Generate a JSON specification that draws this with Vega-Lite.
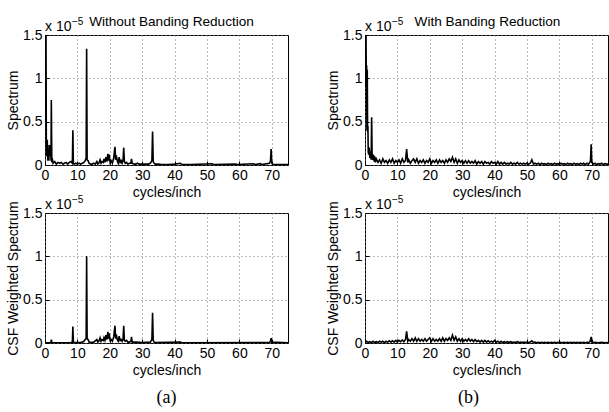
{
"$schema": "https://vega.github.io/schema/vega-lite/v6.json",
"padding": {"left": 6, "top": 14, "right": 0, "bottom": 0},
"background": "#ffffff",
"config": {
  "view": {"stroke": "#000", "strokeWidth": 1},
  "axis": {"labelFont": "Liberation Sans", "labelFontSize": 14, "labelColor": "#000", "labelOverlap": false, "labelFlush": false, "titleFont": "Liberation Sans", "titleFontSize": 14, "titleFontWeight": "normal", "titleColor": "#000", "domain": false, "ticks": true, "tickColor": "#000", "tickSize": -4, "labelPadding": 7, "grid": true, "gridColor": "#777", "gridDash": [1, 3], "gridWidth": 1},
  "axisX": {"titlePadding": 3, "tickCount": 10},
  "axisY": {"titlePadding": 2, "tickCount": 5},
  "title": {"font": "Liberation Sans", "fontSize": 13.6, "fontWeight": "normal", "color": "#000", "frame": "group", "baseline": "alphabetic", "offset": -12}
},
"datasets": {
  "tl": [{"f":0,"v":0.5},{"f":0.1,"v":1.6},{"f":0.2,"v":0.8},{"f":0.3,"v":1.6},{"f":0.4,"v":0.3},{"f":0.5,"v":0.1},{"f":0.7,"v":0.29},{"f":0.85,"v":0.05},{"f":1.0,"v":0.15},{"f":1.2,"v":0.05},{"f":1.3,"v":0.23},{"f":1.45,"v":0.1},{"f":1.55,"v":0.23},{"f":1.65,"v":0.12},{"f":1.75,"v":0.23},{"f":1.85,"v":0.05},{"f":1.95,"v":0.75},{"f":2.1,"v":0.05},{"f":2.3,"v":0.06},{"f":2.5,"v":0.02},{"f":3,"v":0.04},{"f":3.5,"v":0.01},{"f":4,"v":0.03},{"f":4.5,"v":0.02},{"f":5,"v":0.03},{"f":5.5,"v":0.01},{"f":6,"v":0.02},{"f":6.5,"v":0.03},{"f":7,"v":0.01},{"f":7.5,"v":0.03},{"f":8,"v":0.04},{"f":8.45,"v":0.02},{"f":8.6,"v":0.4},{"f":8.75,"v":0.02},{"f":9,"v":0.01},{"f":9.5,"v":0.02},{"f":10,"v":0.01},{"f":10.5,"v":0.02},{"f":11,"v":0.01},{"f":11.5,"v":0.02},{"f":12,"v":0.03},{"f":12.4,"v":0.05},{"f":12.7,"v":0.08},{"f":12.85,"v":1.34},{"f":13,"v":0.06},{"f":13.3,"v":0.05},{"f":13.6,"v":0.02},{"f":14,"v":0.01},{"f":14.5,"v":0.01},{"f":15,"v":0.02},{"f":15.5,"v":0.01},{"f":16,"v":0.04},{"f":16.3,"v":0.01},{"f":16.6,"v":0.02},{"f":17,"v":0.06},{"f":17.3,"v":0.02},{"f":17.6,"v":0.04},{"f":18,"v":0.03},{"f":18.2,"v":0.07},{"f":18.5,"v":0.03},{"f":18.8,"v":0.09},{"f":19.1,"v":0.04},{"f":19.4,"v":0.13},{"f":19.6,"v":0.05},{"f":19.8,"v":0.12},{"f":20.1,"v":0.03},{"f":20.4,"v":0.05},{"f":20.8,"v":0.02},{"f":21.2,"v":0.08},{"f":21.6,"v":0.21},{"f":21.8,"v":0.06},{"f":22,"v":0.11},{"f":22.3,"v":0.05},{"f":22.6,"v":0.02},{"f":22.9,"v":0.09},{"f":23.2,"v":0.03},{"f":23.5,"v":0.05},{"f":23.8,"v":0.02},{"f":24.1,"v":0.06},{"f":24.3,"v":0.2},{"f":24.5,"v":0.04},{"f":24.8,"v":0.02},{"f":25.2,"v":0.03},{"f":25.6,"v":0.01},{"f":26,"v":0.02},{"f":26.5,"v":0.02},{"f":26.7,"v":0.07},{"f":26.9,"v":0.02},{"f":27.5,"v":0.01},{"f":28,"v":0.01},{"f":28.5,"v":0.02},{"f":29,"v":0.01},{"f":30,"v":0.01},{"f":31,"v":0.01},{"f":32,"v":0.01},{"f":32.5,"v":0.02},{"f":33,"v":0.05},{"f":33.2,"v":0.385},{"f":33.4,"v":0.04},{"f":33.7,"v":0.02},{"f":34,"v":0.01},{"f":35,"v":0.01},{"f":36,"v":0.005},{"f":38,"v":0.005},{"f":40,"v":0.01},{"f":41.8,"v":0.02},{"f":42.2,"v":0.005},{"f":45,"v":0.005},{"f":51.6,"v":0.015},{"f":52,"v":0.005},{"f":58.8,"v":0.012},{"f":59.2,"v":0.005},{"f":64.4,"v":0.015},{"f":64.8,"v":0.005},{"f":66.5,"v":0.015},{"f":66.9,"v":0.005},{"f":69.3,"v":0.02},{"f":69.6,"v":0.05},{"f":69.8,"v":0.185},{"f":70,"v":0.02},{"f":70.5,"v":0.005},{"f":75,"v":0.005}],
  "tr": [{"f":0,"v":0.9},{"f":0.1,"v":1.6},{"f":0.2,"v":1.2},{"f":0.3,"v":1.6},{"f":0.4,"v":0.9},{"f":0.5,"v":1.15},{"f":0.6,"v":0.4},{"f":0.7,"v":1.1},{"f":0.8,"v":0.38},{"f":0.9,"v":0.45},{"f":1,"v":0.15},{"f":1.15,"v":0.12},{"f":1.3,"v":0.2},{"f":1.5,"v":0.08},{"f":1.7,"v":0.15},{"f":1.9,"v":0.06},{"f":2.05,"v":0.55},{"f":2.2,"v":0.1},{"f":2.4,"v":0.06},{"f":2.6,"v":0.12},{"f":2.8,"v":0.04},{"f":3,"v":0.1},{"f":3.2,"v":0.03},{"f":3.5,"v":0.07},{"f":4,"v":0.03},{"f":4.5,"v":0.06},{"f":5,"v":0.02},{"f":5.5,"v":0.07},{"f":6,"v":0.03},{"f":6.5,"v":0.05},{"f":7,"v":0.02},{"f":7.5,"v":0.06},{"f":8,"v":0.03},{"f":8.5,"v":0.07},{"f":9,"v":0.02},{"f":9.5,"v":0.05},{"f":10,"v":0.03},{"f":10.5,"v":0.06},{"f":11,"v":0.02},{"f":11.5,"v":0.07},{"f":12,"v":0.03},{"f":12.5,"v":0.05},{"f":12.85,"v":0.185},{"f":13.2,"v":0.03},{"f":13.5,"v":0.06},{"f":14,"v":0.02},{"f":14.5,"v":0.05},{"f":15,"v":0.07},{"f":15.5,"v":0.03},{"f":16,"v":0.07},{"f":16.5,"v":0.02},{"f":17,"v":0.05},{"f":17.5,"v":0.03},{"f":18,"v":0.06},{"f":18.5,"v":0.02},{"f":19,"v":0.05},{"f":19.5,"v":0.03},{"f":20,"v":0.07},{"f":20.5,"v":0.02},{"f":21,"v":0.05},{"f":21.5,"v":0.03},{"f":22,"v":0.06},{"f":22.5,"v":0.02},{"f":23,"v":0.06},{"f":23.5,"v":0.03},{"f":24,"v":0.05},{"f":24.5,"v":0.02},{"f":25,"v":0.06},{"f":25.5,"v":0.03},{"f":26,"v":0.07},{"f":26.5,"v":0.04},{"f":27,"v":0.09},{"f":27.5,"v":0.03},{"f":28,"v":0.07},{"f":28.5,"v":0.02},{"f":29,"v":0.06},{"f":29.5,"v":0.03},{"f":30,"v":0.05},{"f":30.5,"v":0.02},{"f":31,"v":0.05},{"f":31.5,"v":0.02},{"f":32,"v":0.05},{"f":32.5,"v":0.02},{"f":33,"v":0.04},{"f":33.5,"v":0.02},{"f":34,"v":0.05},{"f":34.5,"v":0.01},{"f":35,"v":0.04},{"f":35.5,"v":0.02},{"f":36,"v":0.04},{"f":36.5,"v":0.01},{"f":37,"v":0.04},{"f":37.5,"v":0.02},{"f":38,"v":0.03},{"f":38.5,"v":0.01},{"f":39,"v":0.04},{"f":39.5,"v":0.02},{"f":40,"v":0.03},{"f":40.5,"v":0.01},{"f":41,"v":0.04},{"f":41.5,"v":0.01},{"f":42,"v":0.03},{"f":42.5,"v":0.01},{"f":43,"v":0.03},{"f":43.5,"v":0.01},{"f":44,"v":0.02},{"f":44.5,"v":0.01},{"f":45,"v":0.03},{"f":45.5,"v":0.01},{"f":46,"v":0.02},{"f":46.5,"v":0.01},{"f":47,"v":0.03},{"f":47.5,"v":0.01},{"f":48,"v":0.02},{"f":48.5,"v":0.01},{"f":49,"v":0.02},{"f":49.5,"v":0.01},{"f":50,"v":0.02},{"f":50.5,"v":0.01},{"f":51,"v":0.02},{"f":51.5,"v":0.06},{"f":52,"v":0.01},{"f":52.5,"v":0.02},{"f":53,"v":0.01},{"f":53.5,"v":0.02},{"f":54,"v":0.005},{"f":54.5,"v":0.02},{"f":55,"v":0.01},{"f":55.5,"v":0.015},{"f":56,"v":0.005},{"f":56.5,"v":0.02},{"f":57,"v":0.01},{"f":57.5,"v":0.015},{"f":58,"v":0.005},{"f":58.5,"v":0.02},{"f":59,"v":0.01},{"f":59.5,"v":0.015},{"f":60,"v":0.005},{"f":60.5,"v":0.02},{"f":61,"v":0.01},{"f":61.5,"v":0.015},{"f":62,"v":0.005},{"f":62.5,"v":0.02},{"f":63,"v":0.01},{"f":63.5,"v":0.015},{"f":64,"v":0.005},{"f":64.5,"v":0.02},{"f":65,"v":0.01},{"f":65.5,"v":0.015},{"f":66,"v":0.005},{"f":66.5,"v":0.02},{"f":67,"v":0.01},{"f":67.5,"v":0.02},{"f":68,"v":0.005},{"f":68.5,"v":0.02},{"f":69,"v":0.01},{"f":69.4,"v":0.03},{"f":69.6,"v":0.05},{"f":69.8,"v":0.24},{"f":70,"v":0.03},{"f":70.5,"v":0.01},{"f":71,"v":0.02},{"f":71.5,"v":0.005},{"f":72,"v":0.015},{"f":72.5,"v":0.01},{"f":73,"v":0.02},{"f":73.5,"v":0.005},{"f":74,"v":0.015},{"f":74.5,"v":0.01},{"f":75,"v":0.01}],
  "bl": [{"f":0,"v":0.002},{"f":1.8,"v":0.002},{"f":1.95,"v":0.04},{"f":2.1,"v":0.002},{"f":8,"v":0.005},{"f":8.45,"v":0.01},{"f":8.6,"v":0.19},{"f":8.75,"v":0.01},{"f":9,"v":0.005},{"f":11,"v":0.005},{"f":11.5,"v":0.01},{"f":12,"v":0.02},{"f":12.4,"v":0.04},{"f":12.7,"v":0.05},{"f":12.85,"v":1.0},{"f":13,"v":0.05},{"f":13.3,"v":0.04},{"f":13.6,"v":0.01},{"f":14,"v":0.005},{"f":15,"v":0.01},{"f":16,"v":0.04},{"f":16.3,"v":0.01},{"f":16.6,"v":0.02},{"f":17,"v":0.06},{"f":17.3,"v":0.02},{"f":17.6,"v":0.04},{"f":18,"v":0.03},{"f":18.2,"v":0.06},{"f":18.5,"v":0.03},{"f":18.8,"v":0.09},{"f":19.1,"v":0.04},{"f":19.4,"v":0.13},{"f":19.6,"v":0.05},{"f":19.8,"v":0.11},{"f":20.1,"v":0.03},{"f":20.4,"v":0.04},{"f":20.8,"v":0.02},{"f":21.2,"v":0.07},{"f":21.6,"v":0.2},{"f":21.8,"v":0.05},{"f":22,"v":0.1},{"f":22.3,"v":0.04},{"f":22.6,"v":0.02},{"f":22.9,"v":0.08},{"f":23.2,"v":0.03},{"f":23.5,"v":0.04},{"f":23.8,"v":0.02},{"f":24.1,"v":0.05},{"f":24.3,"v":0.2},{"f":24.5,"v":0.03},{"f":24.8,"v":0.02},{"f":25.2,"v":0.03},{"f":25.6,"v":0.01},{"f":26,"v":0.01},{"f":26.5,"v":0.02},{"f":26.7,"v":0.07},{"f":26.9,"v":0.01},{"f":28,"v":0.01},{"f":30,"v":0.005},{"f":32.5,"v":0.01},{"f":33,"v":0.04},{"f":33.2,"v":0.35},{"f":33.4,"v":0.03},{"f":33.7,"v":0.01},{"f":34,"v":0.005},{"f":41.8,"v":0.01},{"f":42.2,"v":0.002},{"f":69.3,"v":0.005},{"f":69.6,"v":0.02},{"f":69.8,"v":0.055},{"f":70,"v":0.01},{"f":75,"v":0.002}],
  "br": [{"f":0,"v":0.005},{"f":0.5,"v":0.02},{"f":1,"v":0.005},{"f":1.5,"v":0.015},{"f":2,"v":0.005},{"f":2.5,"v":0.02},{"f":3,"v":0.005},{"f":3.5,"v":0.015},{"f":4,"v":0.005},{"f":4.5,"v":0.02},{"f":5,"v":0.01},{"f":5.5,"v":0.02},{"f":6,"v":0.005},{"f":6.5,"v":0.02},{"f":7,"v":0.01},{"f":7.5,"v":0.025},{"f":8,"v":0.01},{"f":8.5,"v":0.025},{"f":9,"v":0.01},{"f":9.5,"v":0.03},{"f":10,"v":0.01},{"f":10.5,"v":0.03},{"f":11,"v":0.015},{"f":11.5,"v":0.035},{"f":12,"v":0.015},{"f":12.5,"v":0.04},{"f":12.85,"v":0.135},{"f":13.2,"v":0.02},{"f":13.5,"v":0.04},{"f":14,"v":0.02},{"f":14.5,"v":0.05},{"f":15,"v":0.02},{"f":15.5,"v":0.06},{"f":16,"v":0.02},{"f":16.5,"v":0.05},{"f":17,"v":0.02},{"f":17.5,"v":0.04},{"f":18,"v":0.02},{"f":18.5,"v":0.05},{"f":19,"v":0.02},{"f":19.5,"v":0.04},{"f":20,"v":0.06},{"f":20.5,"v":0.02},{"f":21,"v":0.05},{"f":21.5,"v":0.02},{"f":22,"v":0.04},{"f":22.5,"v":0.02},{"f":23,"v":0.05},{"f":23.5,"v":0.02},{"f":24,"v":0.06},{"f":24.5,"v":0.02},{"f":25,"v":0.05},{"f":25.5,"v":0.03},{"f":26,"v":0.06},{"f":26.5,"v":0.03},{"f":27,"v":0.09},{"f":27.5,"v":0.03},{"f":28,"v":0.07},{"f":28.5,"v":0.02},{"f":29,"v":0.05},{"f":29.5,"v":0.02},{"f":30,"v":0.05},{"f":30.5,"v":0.02},{"f":31,"v":0.04},{"f":31.5,"v":0.02},{"f":32,"v":0.05},{"f":32.5,"v":0.02},{"f":33,"v":0.04},{"f":33.5,"v":0.015},{"f":34,"v":0.04},{"f":34.5,"v":0.015},{"f":35,"v":0.03},{"f":35.5,"v":0.01},{"f":36,"v":0.03},{"f":36.5,"v":0.01},{"f":37,"v":0.03},{"f":37.5,"v":0.01},{"f":38,"v":0.025},{"f":38.5,"v":0.01},{"f":39,"v":0.02},{"f":39.5,"v":0.01},{"f":40,"v":0.03},{"f":40.5,"v":0.01},{"f":41,"v":0.02},{"f":41.5,"v":0.005},{"f":42,"v":0.02},{"f":42.5,"v":0.005},{"f":43,"v":0.015},{"f":43.5,"v":0.005},{"f":44,"v":0.015},{"f":44.5,"v":0.005},{"f":45,"v":0.015},{"f":45.5,"v":0.005},{"f":46,"v":0.01},{"f":46.5,"v":0.005},{"f":47,"v":0.015},{"f":47.5,"v":0.005},{"f":48,"v":0.01},{"f":48.5,"v":0.005},{"f":49,"v":0.01},{"f":49.5,"v":0.005},{"f":50,"v":0.01},{"f":50.5,"v":0.005},{"f":51,"v":0.01},{"f":51.5,"v":0.025},{"f":52,"v":0.005},{"f":52.5,"v":0.01},{"f":53,"v":0.003},{"f":53.5,"v":0.008},{"f":54,"v":0.003},{"f":54.5,"v":0.008},{"f":55,"v":0.003},{"f":55.5,"v":0.008},{"f":56,"v":0.003},{"f":56.5,"v":0.008},{"f":57,"v":0.003},{"f":57.5,"v":0.008},{"f":58,"v":0.003},{"f":58.5,"v":0.008},{"f":59,"v":0.003},{"f":59.5,"v":0.008},{"f":60,"v":0.003},{"f":60.5,"v":0.008},{"f":61,"v":0.003},{"f":61.5,"v":0.008},{"f":62,"v":0.003},{"f":62.5,"v":0.008},{"f":63,"v":0.003},{"f":63.5,"v":0.008},{"f":64,"v":0.003},{"f":64.5,"v":0.008},{"f":65,"v":0.003},{"f":65.5,"v":0.008},{"f":66,"v":0.003},{"f":66.5,"v":0.008},{"f":67,"v":0.003},{"f":67.5,"v":0.008},{"f":68,"v":0.003},{"f":68.5,"v":0.008},{"f":69,"v":0.005},{"f":69.5,"v":0.02},{"f":69.8,"v":0.07},{"f":70,"v":0.01},{"f":70.5,"v":0.005},{"f":71,"v":0.008},{"f":72,"v":0.003},{"f":73,"v":0.008},{"f":74,"v":0.003},{"f":75,"v":0.005}],
  "note": [{"base": "x 10", "exp": "−5"}]
},
"columns": 2,
"spacing": {"row": 48, "column": 77},
"bounds": "flush",
"concat": [
  {
    "width": 243, "height": 130,
    "title": {"text": "Without Banding Reduction", "orient": "top", "dx": 5},
    "layer": [
      {"data": {"name": "tl"}, "mark": {"type": "line", "color": "#000", "strokeWidth": 1.6, "clip": true},
       "encoding": {"x": {"field": "f", "type": "quantitative", "scale": {"domain": [0, 75], "nice": false}, "axis": {"values": [0,10,20,30,40,50,60,70], "tickCount": 10, "format": "d", "title": "cycles/inch", "titleFontWeight": "normal"}},
                    "y": {"field": "v", "type": "quantitative", "scale": {"domain": [0, 1.5], "nice": false}, "axis": {"values": [0,0.5,1,1.5], "tickCount": 5, "format": ".1~f", "title": "Spectrum"}}}},
      {"data": {"name": "note"}, "mark": {"type": "text", "align": "left", "baseline": "alphabetic", "dy": -4, "font": "Liberation Sans", "fontSize": 14, "color": "#000"},
       "encoding": {"x": {"datum": 0, "type": "quantitative"}, "y": {"datum": 1.5, "type": "quantitative"}, "text": {"field": "base"}}},
      {"data": {"name": "note"}, "mark": {"type": "text", "align": "left", "baseline": "alphabetic", "dx": 27, "dy": -10, "font": "Liberation Sans", "fontSize": 10, "color": "#000"},
       "encoding": {"x": {"datum": 0, "type": "quantitative"}, "y": {"datum": 1.5, "type": "quantitative"}, "text": {"field": "exp"}}}
    ]
  },
  {
    "width": 243, "height": 130,
    "title": {"text": "With Banding Reduction", "orient": "top", "dx": 1},
    "layer": [
      {"data": {"name": "tr"}, "mark": {"type": "line", "color": "#000", "strokeWidth": 1.6, "clip": true},
       "encoding": {"x": {"field": "f", "type": "quantitative", "scale": {"domain": [0, 75], "nice": false}, "axis": {"values": [0,10,20,30,40,50,60,70], "tickCount": 10, "format": "d", "title": "cycles/inch", "titleFontWeight": "normal"}},
                    "y": {"field": "v", "type": "quantitative", "scale": {"domain": [0, 1.5], "nice": false}, "axis": {"values": [0,0.5,1,1.5], "tickCount": 5, "format": ".1~f", "title": "Spectrum"}}}},
      {"data": {"name": "note"}, "mark": {"type": "text", "align": "left", "baseline": "alphabetic", "dy": -4, "font": "Liberation Sans", "fontSize": 14, "color": "#000"},
       "encoding": {"x": {"datum": 0, "type": "quantitative"}, "y": {"datum": 1.5, "type": "quantitative"}, "text": {"field": "base"}}},
      {"data": {"name": "note"}, "mark": {"type": "text", "align": "left", "baseline": "alphabetic", "dx": 27, "dy": -10, "font": "Liberation Sans", "fontSize": 10, "color": "#000"},
       "encoding": {"x": {"datum": 0, "type": "quantitative"}, "y": {"datum": 1.5, "type": "quantitative"}, "text": {"field": "exp"}}}
    ]
  },
  {
    "width": 243, "height": 130,
    "title": {"text": "(a)", "orient": "bottom", "font": "Liberation Serif", "fontSize": 18, "offset": 12},
    "layer": [
      {"data": {"name": "bl"}, "mark": {"type": "line", "color": "#000", "strokeWidth": 1.6, "clip": true},
       "encoding": {"x": {"field": "f", "type": "quantitative", "scale": {"domain": [0, 75], "nice": false}, "axis": {"values": [0,10,20,30,40,50,60,70], "tickCount": 10, "format": "d", "title": "cycles/inch", "titleFontWeight": "normal"}},
                    "y": {"field": "v", "type": "quantitative", "scale": {"domain": [0, 1.5], "nice": false}, "axis": {"values": [0,0.5,1,1.5], "tickCount": 5, "format": ".1~f", "title": "CSF Weighted Spectrum"}}}},
      {"data": {"name": "note"}, "mark": {"type": "text", "align": "left", "baseline": "alphabetic", "dy": -4, "font": "Liberation Sans", "fontSize": 14, "color": "#000"},
       "encoding": {"x": {"datum": 0, "type": "quantitative"}, "y": {"datum": 1.5, "type": "quantitative"}, "text": {"field": "base"}}},
      {"data": {"name": "note"}, "mark": {"type": "text", "align": "left", "baseline": "alphabetic", "dx": 27, "dy": -10, "font": "Liberation Sans", "fontSize": 10, "color": "#000"},
       "encoding": {"x": {"datum": 0, "type": "quantitative"}, "y": {"datum": 1.5, "type": "quantitative"}, "text": {"field": "exp"}}}
    ]
  },
  {
    "width": 243, "height": 130,
    "title": {"text": "(b)", "orient": "bottom", "font": "Liberation Serif", "fontSize": 18, "offset": 12, "dx": -18},
    "layer": [
      {"data": {"name": "br"}, "mark": {"type": "line", "color": "#000", "strokeWidth": 1.6, "clip": true},
       "encoding": {"x": {"field": "f", "type": "quantitative", "scale": {"domain": [0, 75], "nice": false}, "axis": {"values": [0,10,20,30,40,50,60,70], "tickCount": 10, "format": "d", "title": "cycles/inch", "titleFontWeight": "normal"}},
                    "y": {"field": "v", "type": "quantitative", "scale": {"domain": [0, 1.5], "nice": false}, "axis": {"values": [0,0.5,1,1.5], "tickCount": 5, "format": ".1~f", "title": "CSF Weighted Spectrum"}}}},
      {"data": {"name": "note"}, "mark": {"type": "text", "align": "left", "baseline": "alphabetic", "dy": -4, "font": "Liberation Sans", "fontSize": 14, "color": "#000"},
       "encoding": {"x": {"datum": 0, "type": "quantitative"}, "y": {"datum": 1.5, "type": "quantitative"}, "text": {"field": "base"}}},
      {"data": {"name": "note"}, "mark": {"type": "text", "align": "left", "baseline": "alphabetic", "dx": 27, "dy": -10, "font": "Liberation Sans", "fontSize": 10, "color": "#000"},
       "encoding": {"x": {"datum": 0, "type": "quantitative"}, "y": {"datum": 1.5, "type": "quantitative"}, "text": {"field": "exp"}}}
    ]
  }
]
}
